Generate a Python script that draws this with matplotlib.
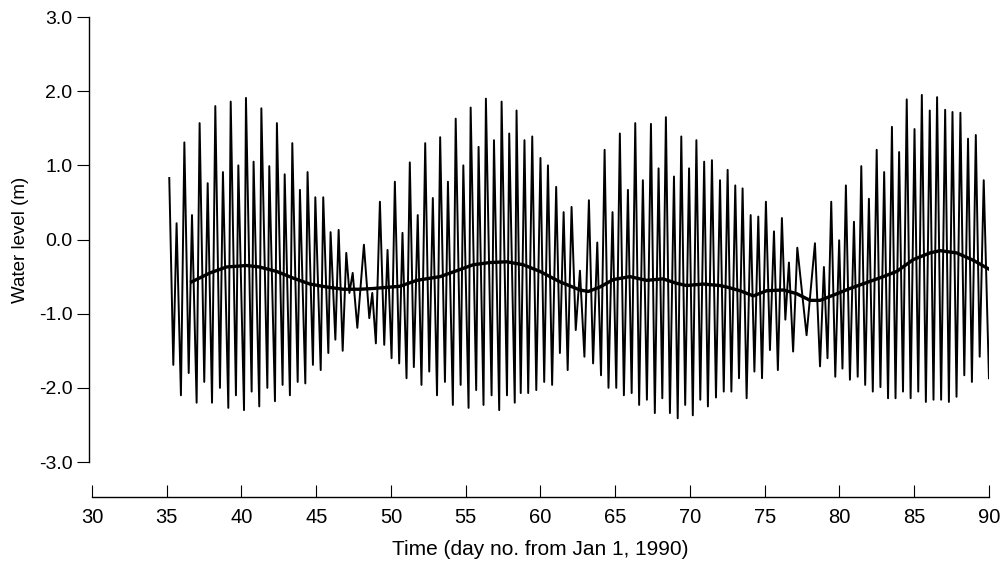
import numpy as np
import matplotlib
matplotlib.use("Agg")
import matplotlib.pyplot as plt

plt.rcParams['font.family'] = ['Liberation Sans', 'DejaVu Sans']
plt.rcParams['axes.unicode_minus'] = False

# tidal high waters: day, level (m)
high_t = [35.17, 35.66, 36.18, 36.69, 37.20, 37.74, 38.25, 38.76, 39.28, 39.79,
          40.30, 40.81, 41.33, 41.86, 42.37, 42.89, 43.40, 43.91, 44.42, 44.94,
          45.47, 45.96, 46.50, 47.01, 47.44, 48.19, 48.75, 49.26, 49.77, 50.26,
          50.77, 51.26, 51.79, 52.29, 52.80, 53.29, 53.81, 54.33, 54.84, 55.33,
          55.86, 56.35, 56.89, 57.40, 57.91, 58.40, 58.93, 59.45, 60.00, 60.50,
          61.05, 61.55, 62.08, 62.64, 63.24, 63.80, 64.29, 64.82, 65.31, 65.85,
          66.34, 66.85, 67.39, 67.90, 68.39, 68.93, 69.42, 69.94, 70.43, 70.95,
          71.47, 72.01, 72.52, 73.03, 73.52, 74.06, 74.57, 75.08, 75.62, 76.15,
          76.62, 77.18, 78.36, 78.96, 79.45, 79.98, 80.43, 80.97, 81.46, 81.97,
          82.49, 82.99, 83.51, 83.99, 84.50, 85.02, 85.51, 86.04, 86.53, 87.07,
          87.56, 88.09, 88.60, 89.12, 89.65]
high_v = [0.83, 0.22, 1.31, 0.33, 1.57, 0.76, 1.80, 0.91, 1.86, 1.00,
          1.91, 1.05, 1.77, 0.99, 1.57, 0.88, 1.30, 0.67, 0.91, 0.57,
          0.57, 0.10, 0.13, -0.18, -0.45, -0.07, -0.72, 0.51, -0.14, 0.78,
          0.09, 1.04, 0.33, 1.30, 0.56, 1.38, 0.78, 1.63, 1.00, 1.78,
          1.25, 1.90, 1.34, 1.86, 1.43, 1.74, 1.34, 1.39, 1.10, 1.00,
          0.71, 0.37, 0.44, -0.42, 0.53, -0.04, 1.21, 0.37, 1.43, 0.67,
          1.57, 0.80, 1.56, 0.96, 1.65, 0.85, 1.39, 0.96, 1.34, 1.05,
          1.07, 0.80, 0.94, 0.73, 0.69, 0.33, 0.31, 0.51, 0.11, 0.29,
          -0.31, -0.11, -0.05, -0.37, 0.51, -0.01, 0.73, 0.24, 0.99, 0.55,
          1.21, 0.91, 1.52, 1.18, 1.89, 1.49, 1.95, 1.74, 1.92, 1.75,
          1.72, 1.71, 1.36, 1.41, 0.80]

# tidal low waters: day, level (m)
low_t = [35.44, 35.95, 36.47, 37.00, 37.51, 38.03, 38.56, 39.12, 39.63, 40.17,
         40.68, 41.19, 41.73, 42.24, 42.75, 43.24, 43.76, 44.27, 44.78, 45.30,
         45.81, 46.28, 46.77, 47.22, 47.75, 48.55, 48.99, 49.55, 50.04, 50.55,
         51.04, 51.53, 52.04, 52.56, 53.08, 53.61, 54.14, 54.66, 55.19, 55.70,
         56.19, 56.73, 57.24, 57.76, 58.28, 58.68, 59.18, 59.72, 60.25, 60.78,
         61.30, 61.82, 62.36, 62.94, 63.52, 64.05, 64.55, 65.07, 65.58, 66.10,
         66.60, 67.12, 67.65, 68.15, 68.66, 69.18, 69.68, 70.19, 70.69, 71.20,
         71.74, 72.26, 72.77, 73.28, 73.79, 74.31, 74.82, 75.35, 75.88, 76.38,
         76.90, 77.80, 78.70, 79.20, 79.72, 80.20, 80.70, 81.22, 81.72, 82.23,
         82.74, 83.25, 83.75, 84.25, 84.76, 85.27, 85.78, 86.29, 86.80, 87.32,
         87.83, 88.35, 88.86, 89.38, 90.00]
low_v = [-1.69, -2.10, -1.80, -2.20, -1.92, -2.20, -2.00, -2.27, -2.10, -2.30,
         -2.05, -2.25, -2.00, -2.18, -1.96, -2.10, -1.92, -1.94, -1.69, -1.76,
         -1.53, -1.35, -1.50, -0.72, -1.19, -1.06, -1.40, -1.42, -1.60, -1.67,
         -1.87, -1.72, -1.96, -1.78, -2.10, -1.92, -2.23, -1.96, -2.27, -2.03,
         -2.23, -2.10, -2.30, -2.10, -2.20, -2.07, -2.07, -2.03, -1.92, -1.96,
         -1.53, -1.76, -1.22, -1.58, -1.67, -1.83, -2.00, -2.00, -2.10, -2.07,
         -2.23, -2.16, -2.34, -2.14, -2.34, -2.41, -2.23, -2.37, -2.16, -2.25,
         -2.13, -2.05, -2.05, -1.87, -2.14, -1.78, -1.87, -1.49, -1.76, -1.08,
         -1.51, -1.29, -1.71, -1.60, -1.85, -1.74, -1.89, -1.85, -1.96, -2.05,
         -1.99, -2.14, -2.14, -2.05, -2.14, -2.05, -2.19, -2.16, -2.16, -2.19,
         -2.12, -1.83, -1.92, -1.58, -1.87]

# low-pass (mean) water level
mean_t = [36.67, 37.9, 39.0, 40.34, 41.2, 42.35, 43.46, 44.58, 45.7, 46.8,
          47.93, 48.83, 50.6, 51.73, 53.29, 54.4, 55.5, 56.62, 57.74, 58.85,
          59.97, 61.3, 62.64, 63.2, 63.98, 64.87, 65.99, 67.1, 68.2, 69.1,
          69.77, 70.88, 72.0, 72.45, 73.35, 74.24, 75.13, 76.25, 77.14, 78.03,
          78.7, 79.59, 80.7, 81.82, 82.93, 83.83, 84.94, 86.06, 86.73, 87.84,
          88.96, 90.1]
mean_v = [-0.57, -0.45, -0.37, -0.35, -0.37, -0.43, -0.52, -0.60, -0.64, -0.67,
          -0.67, -0.66, -0.63, -0.55, -0.50, -0.42, -0.34, -0.31, -0.30, -0.34,
          -0.43, -0.57, -0.68, -0.70, -0.64, -0.54, -0.50, -0.55, -0.53, -0.59,
          -0.62, -0.60, -0.62, -0.64, -0.69, -0.76, -0.69, -0.68, -0.73, -0.82,
          -0.82, -0.75, -0.66, -0.58, -0.50, -0.43, -0.27, -0.18, -0.15, -0.18,
          -0.28, -0.41]

t = np.array(high_t + low_t)
v = np.array(high_v + low_v)
order = np.argsort(t)

fig = plt.figure(figsize=(10.03, 5.69), dpi=100)
ax = fig.add_axes([0.0917, 0.188, 0.8943, 0.782])

ax.plot(t[order], v[order], color='black', lw=1.4)
ax.plot(mean_t, mean_v, color='black', lw=2.4)

ax.set_xlim(30, 90)
ax.set_ylim(-3, 3)
ax.set_xticks(np.arange(30, 91, 5))
ax.set_yticks(np.arange(-3, 3.01, 1.0))
ax.yaxis.set_major_formatter(matplotlib.ticker.FormatStrFormatter('%.1f'))

ax.spines['top'].set_visible(False)
ax.spines['right'].set_visible(False)
ax.spines['left'].set_position(('outward', 2))
ax.spines['bottom'].set_position(('outward', 25))
ax.spines['left'].set_linewidth(1.0)
ax.spines['bottom'].set_linewidth(1.0)

ax.tick_params(axis='y', direction='out', length=9, width=0.8, labelsize=14, pad=3)
ax.tick_params(axis='x', direction='in', length=9, width=0.8, labelsize=14.5, pad=8)

ax.set_ylabel('Water level (m)', fontsize=13.5)
ax.set_xlabel('Time (day no. from Jan 1, 1990)', fontsize=15)
ax.yaxis.set_label_coords(-0.07, 0.5)
ax.xaxis.set_label_coords(0.5, -0.175)

fig.savefig('out.png', dpi=100)
